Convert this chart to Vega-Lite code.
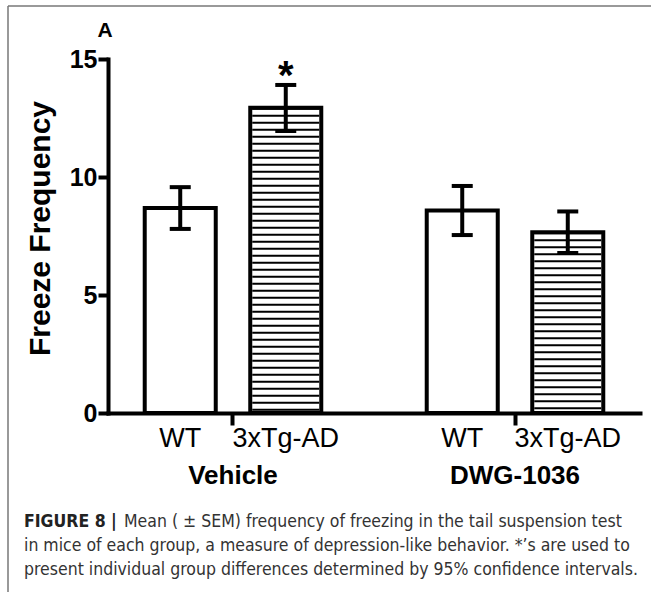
{
  "$schema": "https://vega.github.io/schema/vega-lite/v6.json",
  "width": 532,
  "height": 354,
  "autosize": {"type": "none"},
  "padding": {"left": 108, "top": 59, "right": 11, "bottom": 179},
  "background": "white",
  "config": {"view": {"stroke": null}, "font": "Liberation Sans"},
  "datasets": {
    "bars": [
      {"group": "Vehicle", "genotype": "WT", "mean": 8.69, "lo": 7.80, "hi": 9.57, "sig": ""},
      {"group": "Vehicle", "genotype": "3xTg-AD", "mean": 12.93, "lo": 11.95, "hi": 13.90, "sig": "*"},
      {"group": "DWG-1036", "genotype": "WT", "mean": 8.58, "lo": 7.54, "hi": 9.62, "sig": ""},
      {"group": "DWG-1036", "genotype": "3xTg-AD", "mean": 7.66, "lo": 6.78, "hi": 8.54, "sig": ""}
    ]
  },
  "layer": [
    {
      "data": {"values": [{}]},
      "mark": {"type": "rule", "color": "#777777", "strokeWidth": 1.5},
      "encoding": {"x": {"value": -100}, "y": {"value": -53}, "y2": {"value": 533}}
    },
    {
      "data": {"values": [{}]},
      "mark": {"type": "rule", "color": "#777777", "strokeWidth": 1.5},
      "encoding": {"x": {"value": -100}, "x2": {"value": 543}, "y": {"value": -53}}
    },
    {
      "data": {"name": "bars"},
      "mark": {"type": "bar", "fill": "white", "stroke": "black", "strokeWidth": 4},
      "encoding": {
        "x": {"field": "group", "type": "nominal", "scale": {"domain": ["Vehicle", "DWG-1036"], "paddingInner": 0.1135, "paddingOuter": 0},
          "axis": {"title": null, "grid": false, "labelAngle": 0, "domainColor": "black", "domainWidth": 4, "domainCap": "square", "ticks": true, "tickColor": "black", "tickWidth": 4, "tickSize": 12, "bandPosition": 0.5, "labelFont": "Liberation Sans", "labelFontWeight": "bold", "labelFontSize": 26, "labelColor": "black", "labelBaseline": "alphabetic", "labelPadding": 58}},
        "xOffset": {"field": "genotype", "type": "nominal", "scale": {"domain": ["WT", "3xTg-AD"], "paddingInner": 0.327, "paddingOuter": 0.348}},
        "y": {"field": "mean", "type": "quantitative", "scale": {"domain": [0, 15], "nice": false},
          "axis": {"title": "Freeze Frequency", "titleFont": "Liberation Sans", "titleFontWeight": "bold", "titleFontSize": 30, "titleColor": "black", "titlePadding": 8, "titleY": 169, "values": [0, 5, 10, 15], "grid": false, "domainColor": "black", "domainWidth": 4, "domainCap": "square", "tickColor": "black", "tickWidth": 4, "tickSize": 10, "labelFont": "Liberation Sans", "labelFontWeight": "bold", "labelFontSize": 25, "labelColor": "black", "labelPadding": 1, "minExtent": 45, "maxExtent": 45}}
      }
    },
    {
      "data": {"name": "bars"},
      "transform": [{"filter": "datum.genotype === '3xTg-AD'"}],
      "mark": {"type": "rule", "color": "black", "strokeWidth": 67, "strokeDash": [2, 5], "strokeCap": "butt"},
      "encoding": {
        "x": {"field": "group", "type": "nominal", "scale": {"domain": ["Vehicle", "DWG-1036"], "paddingInner": 0.1135, "paddingOuter": 0}},
        "xOffset": {"field": "genotype", "type": "nominal", "scale": {"domain": ["WT", "3xTg-AD"], "paddingInner": 0.327, "paddingOuter": 0.348}},
        "y": {"field": "mean", "type": "quantitative", "scale": {"domain": [0, 15], "nice": false}},
        "y2": {"datum": 0}
      }
    },
    {
      "data": {"name": "bars"},
      "mark": {"type": "rule", "color": "black", "strokeWidth": 4},
      "encoding": {
        "x": {"field": "group", "type": "nominal", "scale": {"domain": ["Vehicle", "DWG-1036"], "paddingInner": 0.1135, "paddingOuter": 0}},
        "xOffset": {"field": "genotype", "type": "nominal", "scale": {"domain": ["WT", "3xTg-AD"], "paddingInner": 0.327, "paddingOuter": 0.348}},
        "y": {"field": "lo", "type": "quantitative", "scale": {"domain": [0, 15], "nice": false}},
        "y2": {"field": "hi"}
      }
    },
    {
      "data": {"name": "bars"},
      "mark": {"type": "tick", "color": "black", "opacity": 1, "thickness": 4, "size": 21},
      "encoding": {
        "x": {"field": "group", "type": "nominal", "scale": {"domain": ["Vehicle", "DWG-1036"], "paddingInner": 0.1135, "paddingOuter": 0}},
        "xOffset": {"field": "genotype", "type": "nominal", "scale": {"domain": ["WT", "3xTg-AD"], "paddingInner": 0.327, "paddingOuter": 0.348}},
        "y": {"field": "hi", "type": "quantitative", "scale": {"domain": [0, 15], "nice": false}}
      }
    },
    {
      "data": {"name": "bars"},
      "mark": {"type": "tick", "color": "black", "opacity": 1, "thickness": 4, "size": 21},
      "encoding": {
        "x": {"field": "group", "type": "nominal", "scale": {"domain": ["Vehicle", "DWG-1036"], "paddingInner": 0.1135, "paddingOuter": 0}},
        "xOffset": {"field": "genotype", "type": "nominal", "scale": {"domain": ["WT", "3xTg-AD"], "paddingInner": 0.327, "paddingOuter": 0.348}},
        "y": {"field": "lo", "type": "quantitative", "scale": {"domain": [0, 15], "nice": false}}
      }
    },
    {
      "data": {"name": "bars"},
      "mark": {"type": "text", "font": "Liberation Sans", "fontSize": 27, "color": "black", "baseline": "alphabetic", "align": "center", "dy": 34},
      "encoding": {
        "x": {"field": "group", "type": "nominal", "scale": {"domain": ["Vehicle", "DWG-1036"], "paddingInner": 0.1135, "paddingOuter": 0}},
        "xOffset": {"field": "genotype", "type": "nominal", "scale": {"domain": ["WT", "3xTg-AD"], "paddingInner": 0.327, "paddingOuter": 0.348}},
        "y": {"datum": 0, "type": "quantitative", "scale": {"domain": [0, 15], "nice": false}},
        "text": {"field": "genotype"}
      }
    },
    {
      "data": {"name": "bars"},
      "transform": [{"filter": "datum.sig !== ''"}],
      "mark": {"type": "text", "font": "Liberation Sans", "fontWeight": "bold", "fontSize": 40, "color": "black", "baseline": "alphabetic", "align": "center", "dy": 4},
      "encoding": {
        "x": {"field": "group", "type": "nominal", "scale": {"domain": ["Vehicle", "DWG-1036"], "paddingInner": 0.1135, "paddingOuter": 0}},
        "xOffset": {"field": "genotype", "type": "nominal", "scale": {"domain": ["WT", "3xTg-AD"], "paddingInner": 0.327, "paddingOuter": 0.348}},
        "y": {"field": "hi", "type": "quantitative", "scale": {"domain": [0, 15], "nice": false}},
        "text": {"field": "sig"}
      }
    },
    {
      "data": {"values": [{}]},
      "mark": {"type": "text", "text": "A", "font": "Liberation Sans", "fontWeight": "bold", "fontSize": 21, "color": "black", "baseline": "middle", "align": "center"},
      "encoding": {"x": {"value": -3}, "y": {"value": -28}}
    },
    {
      "data": {"values": [{}]},
      "mark": {"type": "text", "text": "FIGURE 8 |", "font": "DejaVu Sans Condensed, Liberation Sans", "fontWeight": "bold", "fontSize": 17.5, "color": "#222222", "baseline": "middle", "align": "left"},
      "encoding": {"x": {"value": -84}, "y": {"value": 463}}
    },
    {
      "data": {"values": [{}]},
      "mark": {"type": "text", "text": "Mean ( ± SEM) frequency of freezing in the tail suspension test", "font": "DejaVu Sans Condensed, Liberation Sans", "fontSize": 17.5, "color": "#333333", "baseline": "middle", "align": "left"},
      "encoding": {"x": {"value": 16}, "y": {"value": 463}}
    },
    {
      "data": {"values": [{}]},
      "mark": {"type": "text", "text": "in mice of each group, a measure of depression-like behavior. *’s are used to", "font": "DejaVu Sans Condensed, Liberation Sans", "fontSize": 17.5, "color": "#333333", "baseline": "middle", "align": "left"},
      "encoding": {"x": {"value": -84}, "y": {"value": 487}}
    },
    {
      "data": {"values": [{}]},
      "mark": {"type": "text", "text": "present individual group differences determined by 95% confidence intervals.", "font": "DejaVu Sans Condensed, Liberation Sans", "fontSize": 17.5, "color": "#333333", "baseline": "middle", "align": "left"},
      "encoding": {"x": {"value": -84}, "y": {"value": 511}}
    }
  ]
}
